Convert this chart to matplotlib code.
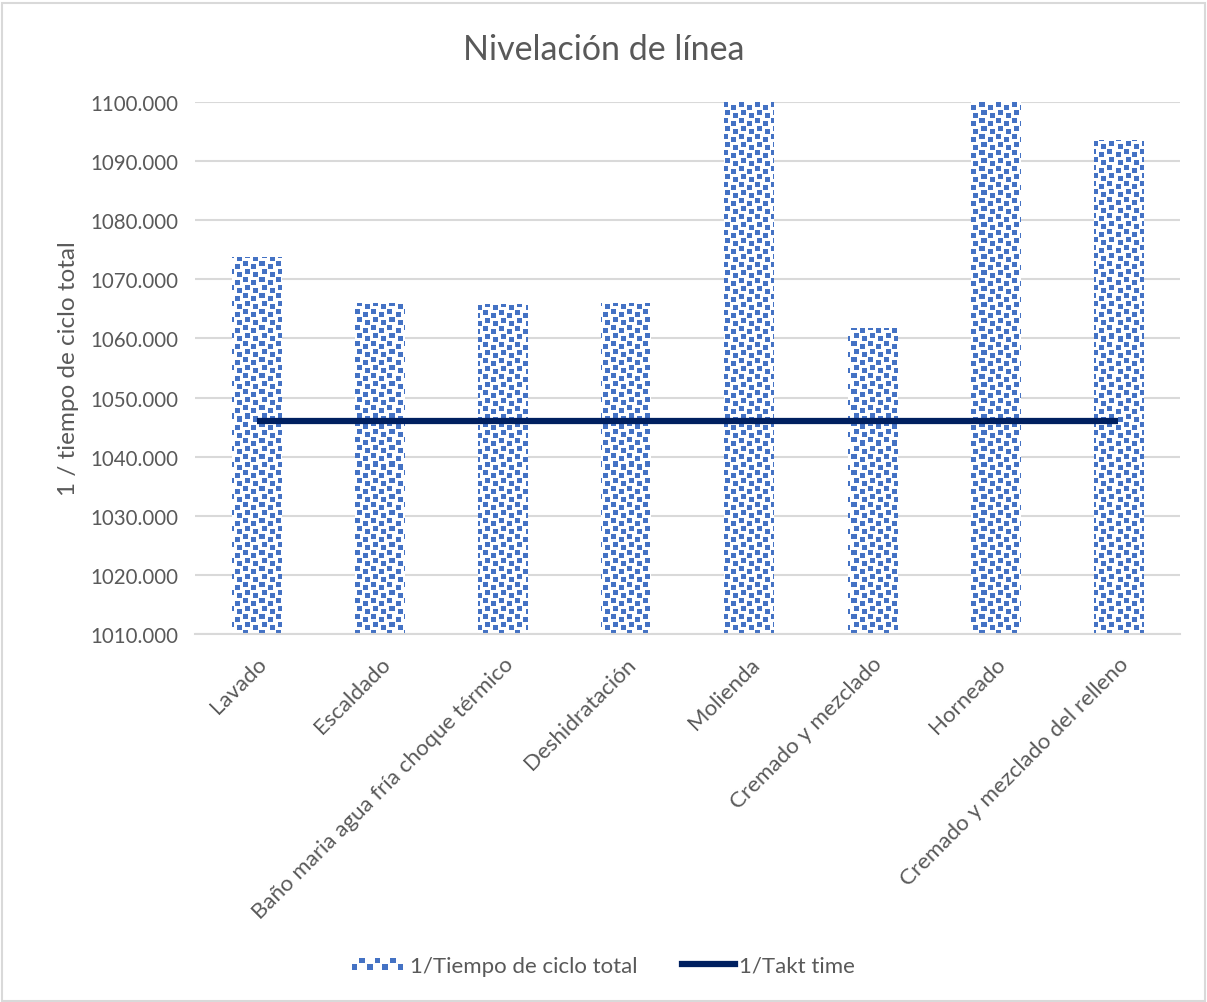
import numpy as np
import matplotlib.pyplot as plt
from matplotlib.patches import Rectangle
from matplotlib.lines import Line2D
from matplotlib.legend_handler import HandlerBase

plt.rcParams['font.family'] = ['Lato', 'DejaVu Sans']

categories = ['Lavado', 'Escaldado', 'Baño maria agua fría choque térmico',
              'Deshidratación', 'Molienda', 'Cremado y mezclado', 'Horneado',
              'Cremado y mezclado del relleno']
ciclo = [1073.8, 1066.0, 1065.8, 1066.0, 1115.0, 1061.8, 1115.0, 1093.6]
takt = [1046.0] * 8
yticks = [1010, 1020, 1030, 1040, 1050, 1060, 1070, 1080, 1090, 1100]

blue = '#4472C4'
navy = '#002060'
grey = '#595959'


def pattern_image(w, h):
    # Excel-like confetti pattern: blue squares on white
    img = np.ones((h, w, 3))
    rgb = np.array([0x44, 0x72, 0xC4]) / 255
    cell = 8
    for r in range(0, h, cell):
        for c in range(0, w, cell):
            dy = 3 if (c // cell) % 2 else 0
            dx = 2 if (r // cell) % 2 else 0
            img[r + dy:r + dy + 5, c + dx:c + dx + 5] = rgb
    return img


class PatternHandler(HandlerBase):
    def create_artists(self, legend, orig_handle, xdescent, ydescent,
                       width, height, fontsize, trans):
        arts = []
        n = 7
        s = width / (n * 1.35)
        for i in range(n):
            for j in range(2):
                if (i + j) % 2:
                    continue
                x0 = -xdescent + i * width / n
                y0 = -ydescent + height * 0.15 + j * height * 0.4
                arts.append(Rectangle((x0, y0), s, s, facecolor=blue,
                                      edgecolor='none', transform=trans))
        return arts


fig = plt.figure(figsize=(12.07, 10.03), dpi=100)
fig.patches.append(Rectangle((0.002, 0.001), 0.996, 0.995, transform=fig.transFigure,
                             fill=False, edgecolor='#D9D9D9', linewidth=1.5))
ax = fig.add_axes([0.1616, 0.3669, 0.8160, 0.5304])

x = np.arange(len(categories))
bars = ax.bar(x, ciclo, width=0.4, facecolor='none', edgecolor='none', zorder=2)
img = pattern_image(985, 532)
for b in bars:
    im = ax.imshow(img, extent=(-0.5, len(categories) - 0.5, 1010, 1100),
                   aspect='auto', interpolation='nearest', zorder=2)
    im.set_clip_path(b)
ax.set_aspect('auto')
ax.set_xlim(-0.5, len(categories) - 0.5)
ax.set_ylim(1010, 1100)

ax.plot(x, takt, color=navy, linewidth=4.5, zorder=3, solid_capstyle='butt')

ax.set_yticks(yticks)
ax.set_yticklabels([f'{v:.3f}' for v in yticks])
ax.grid(axis='y', color='#D9D9D9', linewidth=1.5, zorder=0)
ax.set_axisbelow(True)
for s in ['top', 'right', 'left']:
    ax.spines[s].set_visible(False)
ax.spines['bottom'].set_color('#D9D9D9')
ax.spines['bottom'].set_linewidth(1.5)
ax.tick_params(axis='both', length=0, labelcolor=grey)
ax.tick_params(axis='y', labelsize=14.8, pad=12)
ax.set_xticks(x)
ax.set_xticklabels(categories, rotation=45, ha='right', rotation_mode='anchor')
ax.tick_params(axis='x', labelsize=16, pad=14)

ax.set_ylabel('1 / tiempo de ciclo total', fontsize=17.5, color=grey, labelpad=8)
fig.text(0.5, 0.95, 'Nivelación de línea', ha='center', va='center',
         fontsize=24.5, color=grey)

handles = [Rectangle((0, 0), 1, 1), Line2D([0], [0], color=navy, linewidth=4.5)]
fig.legend(handles, ['1/Tiempo de ciclo total', '1/Takt time'],
           handler_map={Rectangle: PatternHandler()},
           loc='center', bbox_to_anchor=(0.5, 0.036), ncol=2, frameon=False,
           fontsize=16, labelcolor=grey, handlelength=2.4, columnspacing=2.0,
           handletextpad=0.2)

fig.savefig('out.png', dpi=100)
